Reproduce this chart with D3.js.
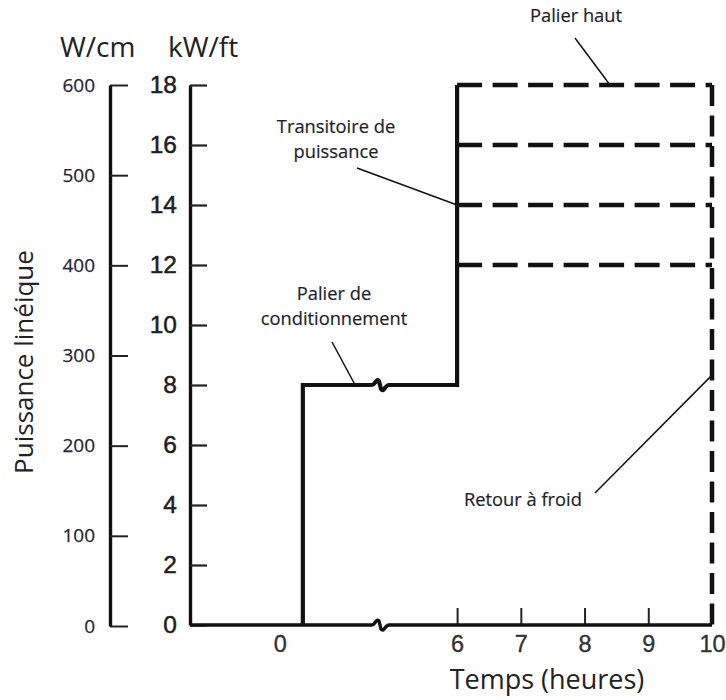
<!DOCTYPE html>
<html>
<head>
<meta charset="utf-8">
<script src="https://cdn.jsdelivr.net/npm/d3@7"></script>
<style>
  html, body { margin: 0; padding: 0; background: #fff; }
  svg { display: block; }
</style>
</head>
<body>
<svg id="chart" width="726" height="700"></svg>
<script>
// ---------- data ----------
const kwTicks = [0, 2, 4, 6, 8, 10, 12, 14, 16, 18];          // kW/ft axis
const wcmTicks = [0, 100, 200, 300, 400, 500, 600];          // W/cm axis
const hourLabels = [0, 6, 7, 8, 9, 10];                      // x tick labels
const hourTickMarks = [6, 7, 8, 9];                          // x tick marks
const xExtent = [-1.41, 10];                                 // hours shown
const xBreak = [1.57, 4.79];                                 // axis break (hours)
// solid power history: [hour, kW/ft]
const solidHist = [[0.36, 0], [0.36, 8], [6, 8], [6, 18]];
// high power plateaus (kW/ft) from 6 h to 10 h
const plateauLevels = [18, 16, 14, 12];
const plateauStart = 6, plateauEnd = 10;
// annotations: anchor in data units
const annotations = [
  { lines: ["Palier haut"], hour: 8.4, kw: 18 },
  { lines: ["Transitoire de", "puissance"], hour: 6, kw: 14 },
  { lines: ["Palier de", "conditionnement"], hour: 1.18, kw: 8 },
  { lines: ["Retour à froid"], hour: 10, kw: 8.33 }
];
// annotation label layout (pixels)
const annLayout = [
  { x: 576, y: 22, anchor: "middle", lx: 575, ly: 38 },
  { x: 336, y: 133, anchor: "middle", lx: 357, ly: 168 },
  { x: 334, y: 300, anchor: "middle", lx: 332, ly: 342 },
  { x: 464, y: 506, anchor: "start", lx: 595, ly: 493 }
];

// ---------- scales ----------
const svg = d3.select("#chart");
const x = d3.scaleLinear()
  .domain([xExtent[0], xBreak[0], xBreak[1], xExtent[1]])
  .range([190, 380, 380, 712]);
const yKw = d3.scaleLinear().domain([0, 18]).range([625, 85]);
const yW = d3.scaleLinear().domain([0, 600]).range([626, 85]);

const sans = "'Open Sans', 'DejaVu Sans', sans-serif";
const arial = "'Liberation Sans', Arial, sans-serif";

// ---------- W/cm axis ----------
const gW = svg.append("g").attr("transform", "translate(110,0)")
  .call(d3.axisLeft(yW).tickValues(wcmTicks).tickSize(-18).tickSizeOuter(0).tickPadding(15));
gW.select(".domain").attr("stroke", "#111").attr("stroke-width", 3.4);
gW.selectAll(".tick line").attr("stroke", "#222").attr("stroke-width", 2);
gW.selectAll(".tick text").attr("font-family", sans).attr("font-size", 19)
  .attr("fill", "#262632").attr("stroke", "#262632").attr("stroke-width", 0.25);

// ---------- kW/ft axis ----------
const gK = svg.append("g").attr("transform", "translate(190,0)")
  .call(d3.axisLeft(yKw).tickValues(kwTicks).tickSize(-17).tickSizeOuter(0).tickPadding(13));
gK.select(".domain").attr("stroke", "#111").attr("stroke-width", 3.4);
gK.selectAll(".tick line").attr("stroke", "#222").attr("stroke-width", 2.2);
gK.selectAll(".tick text").attr("font-family", arial).attr("font-size", 24.5)
  .attr("fill", "#1e1e1e").attr("stroke", "#1e1e1e").attr("stroke-width", 0.5);

// ---------- x axis (labels + ticks) ----------
const gX = svg.append("g").attr("transform", "translate(0,625)")
  .call(d3.axisBottom(x).tickValues(hourLabels).tickSize(-17).tickSizeOuter(0).tickPadding(10));
gX.select(".domain").remove();
gX.selectAll(".tick line")
  .attr("stroke", "#222").attr("stroke-width", 2)
  .attr("display", d => hourTickMarks.includes(d) ? null : "none");
gX.selectAll(".tick text").attr("font-family", arial).attr("font-size", 23.5)
  .attr("fill", "#333").attr("stroke", "#333").attr("stroke-width", 0.35);

// ---------- broken-line helper ----------
function squiggle(cx, cy) {
  return `L${cx - 8},${cy} C${cx - 5},${cy} ${cx - 4},${cy - 7} ${cx - 1},${cy - 4} ` +
         `L${cx + 1},${cy + 4} C${cx + 4},${cy + 8} ${cx + 5},${cy} ${cx + 9},${cy} `;
}
function brokenPath(points, yScale) {
  let d = "";
  points.forEach((p, i) => {
    const px = x(p[0]), py = yScale(p[1]);
    if (i === 0) { d += `M${px},${py} `; return; }
    const prev = points[i - 1];
    if (prev[0] <= xBreak[0] && p[0] >= xBreak[1] && prev[1] === p[1]) {
      d += squiggle(x(xBreak[0]), py);
    }
    d += `L${px},${py} `;
  });
  return d;
}

// x-axis baseline with break
svg.append("path")
  .attr("d", brokenPath([[xExtent[0], 0], [xExtent[1], 0]], yKw))
  .attr("fill", "none").attr("stroke", "#111").attr("stroke-width", 3.4);

// high plateaus (dashed)
svg.selectAll(".plateau").data(plateauLevels).join("line")
  .attr("class", "plateau")
  .attr("x1", x(plateauStart)).attr("x2", x(plateauEnd))
  .attr("y1", d => yKw(d)).attr("y2", d => yKw(d))
  .attr("stroke", "#111").attr("stroke-width", 4.5)
  .attr("stroke-dasharray", "25,10.5");

// return to cold (vertical dashed)
svg.append("line")
  .attr("x1", x(plateauEnd)).attr("x2", x(plateauEnd))
  .attr("y1", yKw(d3.max(plateauLevels))).attr("y2", yKw(0))
  .attr("stroke", "#111").attr("stroke-width", 4.5)
  .attr("stroke-dasharray", "21,9.5");

// solid history
svg.append("path")
  .attr("d", brokenPath(solidHist, yKw))
  .attr("fill", "none").attr("stroke", "#111").attr("stroke-width", 4.2)
  .attr("stroke-linejoin", "miter");

// ---------- annotations ----------
annotations.forEach((a, i) => {
  const L = annLayout[i];
  svg.append("line")
    .attr("x1", L.lx).attr("y1", L.ly)
    .attr("x2", x(a.hour)).attr("y2", yKw(a.kw))
    .attr("stroke", "#111").attr("stroke-width", 1.5);
  const t = svg.append("text")
    .attr("font-family", sans).attr("font-size", 18.3)
    .attr("fill", "#1e1e2a").attr("stroke", "#1e1e2a").attr("stroke-width", 0.2)
    .attr("text-anchor", L.anchor);
  a.lines.forEach((ln, j) => {
    t.append("tspan").attr("x", L.x).attr("y", L.y + j * 25).text(ln);
  });
});

// ---------- axis titles ----------
svg.append("text").attr("x", 60).attr("y", 57)
  .attr("font-family", sans).attr("font-size", 28).attr("fill", "#222").text("W/cm");
svg.append("text").attr("x", 168).attr("y", 57)
  .attr("font-family", sans).attr("font-size", 28).attr("fill", "#222").text("kW/ft");
svg.append("text")
  .attr("transform", "translate(33,362) rotate(-90)")
  .attr("text-anchor", "middle")
  .attr("font-family", sans).attr("font-size", 26).attr("fill", "#222")
  .text("Puissance linéique");
svg.append("text").attr("x", 547).attr("y", 689)
  .attr("text-anchor", "middle")
  .attr("font-family", sans).attr("font-size", 27).attr("fill", "#222")
  .text("Temps (heures)");
</script>
</body>
</html>
